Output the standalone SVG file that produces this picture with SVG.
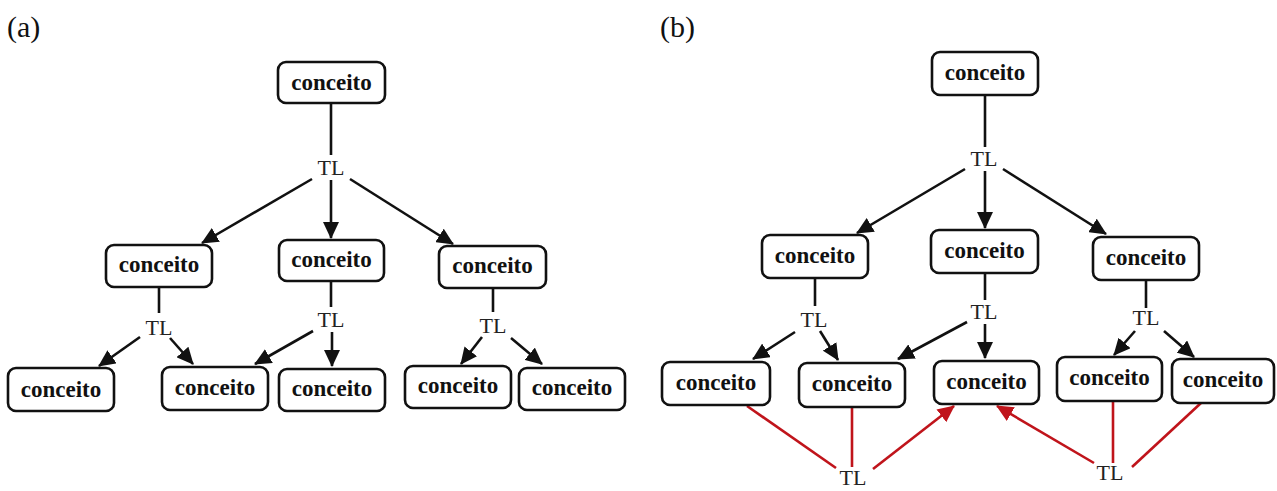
<svg xmlns="http://www.w3.org/2000/svg" width="1277" height="491" viewBox="0 0 1277 491">
<style>
.bg{fill:#fff}
.node rect{fill:#fff;stroke:#111;stroke-width:2.6}
.node text{font-family:"Liberation Serif","Times New Roman",serif;font-weight:bold;font-size:23px;fill:#111;text-anchor:middle}
.tl{font-family:"Liberation Serif","Times New Roman",serif;font-size:22px;fill:#222;text-anchor:middle}
.panel{font-family:"Liberation Serif","Times New Roman",serif;font-size:30px;fill:#111}
.c{stroke:#111;stroke-width:2.6;fill:none}
.r{stroke:#c0141b;stroke-width:2.6;fill:none}
.ca{marker-end:url(#ah)}
.ra{marker-end:url(#rh)}
</style>
<defs>
<marker id="ah" viewBox="0 0 17 16" refX="16" refY="8" markerWidth="17" markerHeight="16" orient="auto" markerUnits="userSpaceOnUse"><path d="M0,0 L17,8 L0,16 z" fill="#111"/></marker>
<marker id="rh" viewBox="0 0 17 16" refX="16" refY="8" markerWidth="17" markerHeight="16" orient="auto" markerUnits="userSpaceOnUse"><path d="M0,0 L17,8 L0,16 z" fill="#c0141b"/></marker>
</defs>
<rect class="bg" x="0" y="0" width="1277" height="491"/>
<text class="panel" x="7" y="37">(a)</text>
<text class="panel" x="660" y="37">(b)</text>
<g id="connectors">
<line class="c" x1="331" y1="103" x2="331" y2="155"/>
<line class="c ca" x1="331" y1="180" x2="331" y2="238"/>
<line class="c ca" x1="312" y1="179" x2="202" y2="243"/>
<line class="c ca" x1="350" y1="179" x2="453" y2="244"/>
<line class="c" x1="159" y1="287" x2="159" y2="313"/>
<line class="c ca" x1="140" y1="337" x2="99" y2="366"/>
<line class="c ca" x1="170" y1="338" x2="193" y2="364"/>
<line class="c" x1="331" y1="281" x2="331" y2="307"/>
<line class="c ca" x1="313" y1="331" x2="255" y2="364"/>
<line class="c ca" x1="332" y1="332" x2="332" y2="366"/>
<line class="c" x1="493" y1="288" x2="493" y2="312"/>
<line class="c ca" x1="482" y1="337" x2="461" y2="364"/>
<line class="c ca" x1="511" y1="338" x2="542" y2="364"/>
<line class="c" x1="985" y1="95" x2="985" y2="147"/>
<line class="c ca" x1="985" y1="171" x2="985" y2="228"/>
<line class="c ca" x1="965" y1="169" x2="857" y2="233"/>
<line class="c ca" x1="1003" y1="169" x2="1106" y2="234"/>
<line class="c" x1="815" y1="278" x2="815" y2="306"/>
<line class="c ca" x1="795" y1="332" x2="753" y2="359"/>
<line class="c ca" x1="820" y1="331" x2="838" y2="360"/>
<line class="c" x1="985" y1="273" x2="985" y2="300"/>
<line class="c ca" x1="967" y1="322" x2="898" y2="359"/>
<line class="c ca" x1="985" y1="324" x2="985" y2="358"/>
<line class="c" x1="1146" y1="280" x2="1146" y2="308"/>
<line class="c ca" x1="1135" y1="331" x2="1114" y2="355"/>
<line class="c ca" x1="1164" y1="331" x2="1194" y2="357"/>
<line class="r" x1="747" y1="406" x2="836" y2="468"/>
<line class="r" x1="852" y1="408" x2="852" y2="467"/>
<line class="r ra" x1="873" y1="469" x2="954" y2="406"/>
<line class="r ra" x1="1094" y1="463" x2="997" y2="406"/>
<line class="r" x1="1113" y1="402" x2="1113" y2="463"/>
<line class="r" x1="1201" y1="403" x2="1132" y2="467"/>
<text class="tl" x="331" y="175">TL</text>
<text class="tl" x="159" y="335">TL</text>
<text class="tl" x="331" y="327">TL</text>
<text class="tl" x="493" y="333">TL</text>
<text class="tl" x="984" y="166">TL</text>
<text class="tl" x="814" y="327">TL</text>
<text class="tl" x="984" y="319">TL</text>
<text class="tl" x="1146" y="325">TL</text>
<text class="tl" x="853" y="485">TL</text>
<text class="tl" x="1110" y="480">TL</text>
</g>
<g id="a0" class="node"><rect x="278" y="62" width="107" height="41" rx="8"/><text x="331.5" y="90">conceito</text></g>
<g id="a1" class="node"><rect x="106" y="245" width="106" height="42" rx="8"/><text x="159" y="272">conceito</text></g>
<g id="a2" class="node"><rect x="279" y="240" width="105" height="41" rx="8"/><text x="331.5" y="267">conceito</text></g>
<g id="a3" class="node"><rect x="439" y="246" width="107" height="42" rx="8"/><text x="492.5" y="273">conceito</text></g>
<g id="a4" class="node"><rect x="8" y="368" width="106" height="43" rx="8"/><text x="61" y="397">conceito</text></g>
<g id="a5" class="node"><rect x="162" y="367" width="106" height="43" rx="8"/><text x="215" y="395">conceito</text></g>
<g id="a6" class="node"><rect x="279" y="369" width="106" height="42" rx="8"/><text x="332" y="396">conceito</text></g>
<g id="a7" class="node"><rect x="405" y="366" width="106" height="42" rx="8"/><text x="458" y="393">conceito</text></g>
<g id="a8" class="node"><rect x="519" y="368" width="106" height="42" rx="8"/><text x="572" y="395">conceito</text></g>
<g id="b0" class="node"><rect x="932" y="52" width="106" height="43" rx="8"/><text x="985" y="80">conceito</text></g>
<g id="b1" class="node"><rect x="762" y="235" width="106" height="43" rx="8"/><text x="815" y="263">conceito</text></g>
<g id="b2" class="node"><rect x="931" y="230" width="107" height="43" rx="8"/><text x="984.5" y="258">conceito</text></g>
<g id="b3" class="node"><rect x="1093" y="237" width="106" height="43" rx="8"/><text x="1146" y="265">conceito</text></g>
<g id="b4" class="node"><rect x="662" y="362" width="108" height="43" rx="8"/><text x="716" y="390">conceito</text></g>
<g id="b5" class="node"><rect x="799" y="363" width="106" height="44" rx="8"/><text x="852" y="391">conceito</text></g>
<g id="b6" class="node"><rect x="934" y="361" width="105" height="43" rx="8"/><text x="986.5" y="389">conceito</text></g>
<g id="b7" class="node"><rect x="1057" y="357" width="105" height="44" rx="8"/><text x="1109.5" y="385">conceito</text></g>
<g id="b8" class="node"><rect x="1172" y="359" width="102" height="44" rx="8"/><text x="1223" y="387">conceito</text></g>
</svg>
